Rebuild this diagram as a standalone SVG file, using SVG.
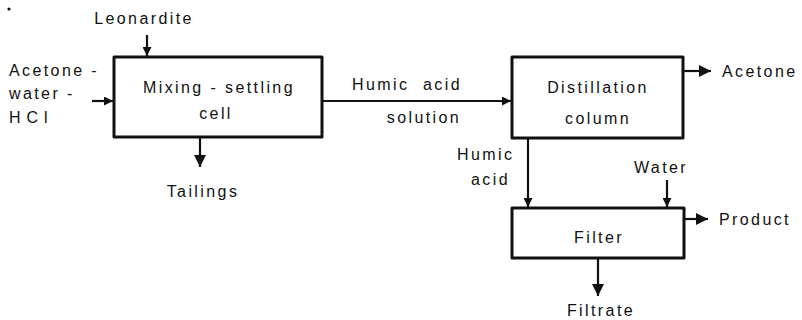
<svg xmlns="http://www.w3.org/2000/svg" width="802" height="320" viewBox="0 0 802 320">
  <style>
    .box { fill: none; stroke: #111; stroke-width: 3; stroke-linejoin: round; }
    .ln { fill: none; stroke: #111; stroke-width: 2.2; }
    .lbl { font-family: "Liberation Sans", Arial, sans-serif; font-size: 16px; letter-spacing: 2.4px; fill: #111; }
    .mid { text-anchor: middle; }
  </style>
  <defs>
    <marker id="headS" viewBox="0 0 10 10" refX="10" refY="5" markerWidth="11" markerHeight="9" markerUnits="userSpaceOnUse" orient="auto">
      <path d="M0,0 L10,5 L0,10 Z" fill="#111"/>
    </marker>
    <marker id="headL" viewBox="0 0 10 10" refX="10" refY="5" markerWidth="15" markerHeight="12" markerUnits="userSpaceOnUse" orient="auto">
      <path d="M0,0 L10,5 L0,10 Z" fill="#111"/>
    </marker>
  </defs>

  <circle cx="9" cy="9" r="1.6" fill="#111"/>

  <g id="mixing-settling-cell">
    <rect class="box" x="114" y="57" width="208" height="80"/>
    <text class="lbl mid" x="219" y="93">Mixing - settling</text>
    <text class="lbl mid" x="216" y="119">cell</text>
  </g>

  <g id="distillation-column">
    <rect class="box" x="512" y="57" width="171" height="81"/>
    <text class="lbl mid" x="598" y="93">Distillation</text>
    <text class="lbl mid" x="598" y="124">column</text>
  </g>

  <g id="filter">
    <rect class="box" x="512" y="208" width="172" height="50"/>
    <text class="lbl mid" x="599" y="243">Filter</text>
  </g>

  <g id="stream-labels">
    <text class="lbl mid" x="144" y="24">Leonardite</text>
    <text class="lbl" x="9" y="76">Acetone -</text>
    <text class="lbl" x="9" y="99">water -</text>
    <text class="lbl" x="9" y="123" style="letter-spacing:6px">HCl</text>
    <text class="lbl mid" x="203" y="197">Tailings</text>
    <text class="lbl" x="352" y="90" xml:space="preserve">Humic  acid</text>
    <text class="lbl mid" x="424" y="123">solution</text>
    <text class="lbl" x="722" y="77">Acetone</text>
    <text class="lbl" x="457" y="160">Humic</text>
    <text class="lbl" x="471" y="185">acid</text>
    <text class="lbl mid" x="661" y="173">Water</text>
    <text class="lbl" x="719" y="225">Product</text>
    <text class="lbl mid" x="601" y="316">Filtrate</text>
  </g>

  <g id="connectors">
    <line class="ln" x1="147" y1="35" x2="147" y2="56" marker-end="url(#headS)"/>
    <line class="ln" x1="92" y1="101" x2="113" y2="101" marker-end="url(#headS)"/>
    <line class="ln" x1="200" y1="138" x2="200" y2="167" marker-end="url(#headL)"/>
    <line class="ln" x1="322" y1="101" x2="511" y2="101" marker-end="url(#headS)"/>
    <line class="ln" x1="683" y1="71" x2="711" y2="71" marker-end="url(#headL)"/>
    <line class="ln" x1="528" y1="138" x2="528" y2="207" marker-end="url(#headS)"/>
    <line class="ln" x1="667" y1="180" x2="667" y2="207" marker-end="url(#headS)"/>
    <line class="ln" x1="684" y1="219" x2="708" y2="219" marker-end="url(#headL)"/>
    <line class="ln" x1="598" y1="258" x2="598" y2="296" marker-end="url(#headL)"/>
  </g>
</svg>
